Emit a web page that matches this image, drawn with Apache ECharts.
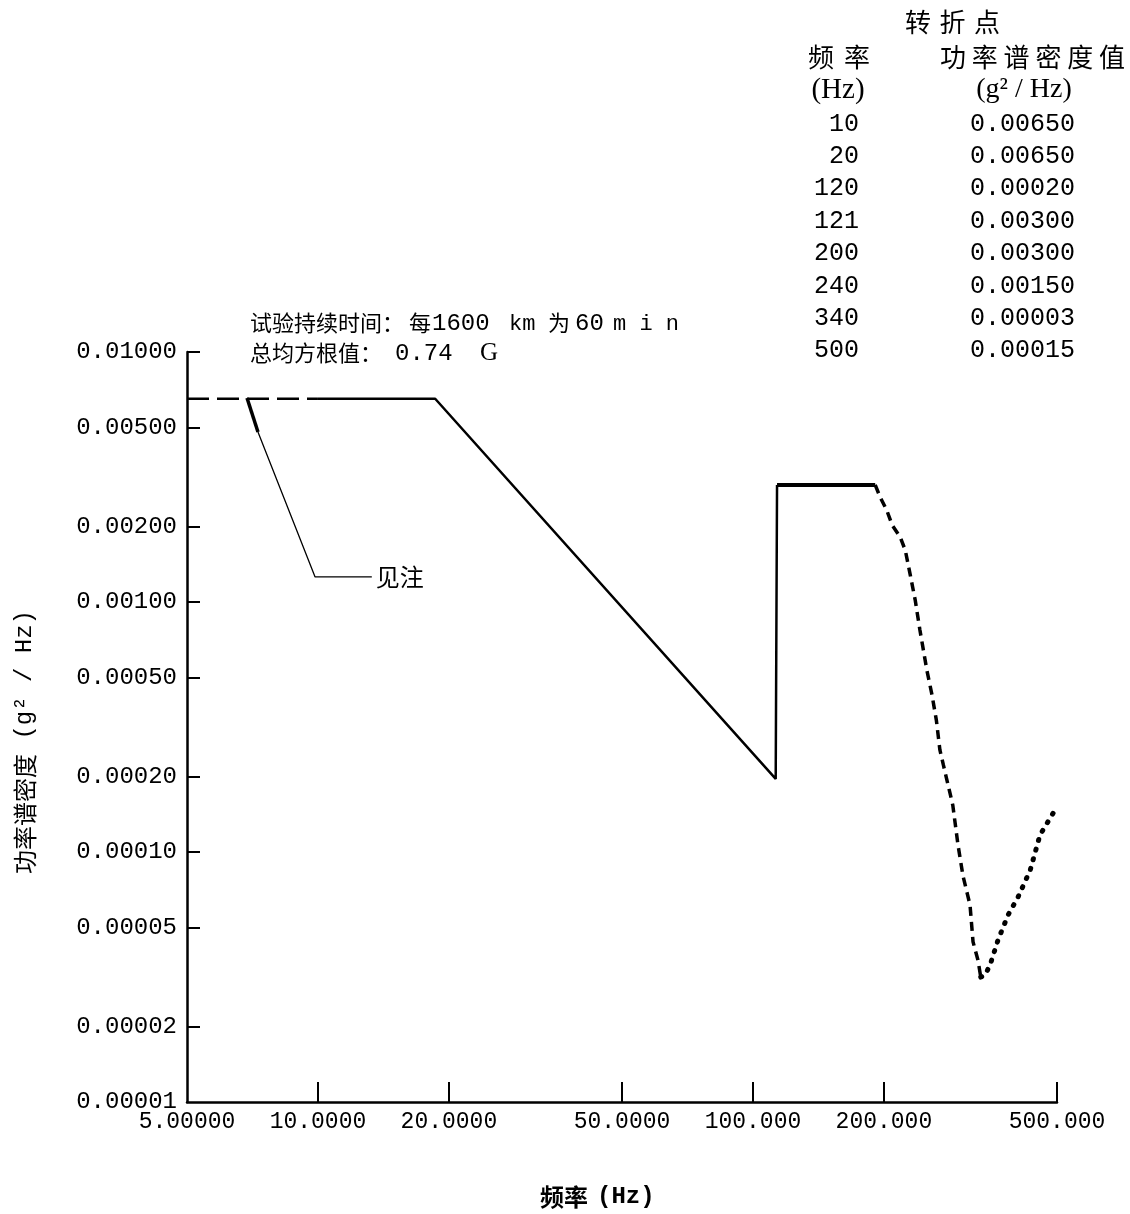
<!DOCTYPE html>
<html><head><meta charset="utf-8">
<script src="https://cdn.jsdelivr.net/npm/echarts@6/dist/echarts.min.js"></script>
<style>html,body{margin:0;padding:0;background:#fff}#c{width:1130px;height:1214px}</style>
</head><body><div id="c"></div>
<script>
// ---- axis ticks ----
const xTicks = [5, 10, 20, 50, 100, 200, 500];
const yTicks = [0.01, 0.005, 0.002, 0.001, 0.0005, 0.0002, 0.0001, 0.00005, 0.00002, 0.00001];

// ---- curve pieces (frequency Hz, PSD g^2/Hz) ----
const extFreq = [5, 10];
const extPsd = [0.0065, 0.0065];
const slopeFreq = [10, 18.6, 112.8, 113.6];
const slopePsd = [0.0065, 0.0065, 0.000196, 0.00294];
const plateauFreq = [113.6, 191];
const plateauPsd = [0.00294, 0.00294];
const rollFreq = [191, 196, 203, 209, 218, 224, 230, 236, 242, 251, 258, 264, 269, 274, 281, 288, 296, 304, 315.5, 320.6, 329, 334];
const rollPsd = [0.00294, 0.00263, 0.00233, 0.00203, 0.00182, 0.00161, 0.00128, 0.00102, 0.000773, 0.000535, 0.000425, 0.000337, 0.000256, 0.000223, 0.000185, 0.000154, 0.000107, 0.0000802, 0.0000614, 0.0000437, 0.000037, 0.0000316];
const riseFreq = [334, 341.6, 350.8, 366, 386, 407, 434, 457, 498];
const risePsd = [0.0000316, 0.0000322, 0.0000353, 0.0000445, 0.000056, 0.0000661, 0.0000847, 0.000117, 0.00015];

// ---- "见注" leader line ----
const noteFreq = [6.87, 7.28, 9.85, 13.3];
const notePsd = [0.00655, 0.00479, 0.00126, 0.00126];

// ---- break point table ----
const tableFreq = ['10', '20', '120', '121', '200', '240', '340', '500'];
const tablePsd = ['0.00650', '0.00650', '0.00020', '0.00300', '0.00300', '0.00150', '0.00003', '0.00015'];

const pairs = (xs, ys) => xs.map((x, i) => [x, ys[i]]);
const CJK = '"Noto Sans CJK SC", sans-serif';
const MONO = '"Liberation Mono", "DejaVu Sans Mono", monospace';
const SERIF = '"Liberation Serif", "Noto Sans CJK SC", serif';

const graphics = [];
function txt(x, y, text, font, size, align, weight) {
  graphics.push({ type: 'text', x: x, y: y, style: { text: text, fontFamily: font, fontSize: size, fontWeight: weight || 'normal', fill: '#000', textAlign: align || 'left', textVerticalAlign: 'middle' } });
}
// place characters one by one with a fixed step (wide letter spacing of the original print)
function spaced(x0, y, text, font, size, step) {
  Array.from(text).forEach((ch, i) => txt(x0 + i * step, y, ch, font, size, 'left'));
}
spaced(905, 22, '转折点', CJK, 26, 34.5);
spaced(808, 57, '频率', CJK, 26, 36);
spaced(940, 57, '功率谱密度值', CJK, 26, 31.8);
txt(838, 90, '(Hz)', SERIF, 29, 'center');
txt(1024, 90, '(g² / Hz)', SERIF, 28, 'center');
tableFreq.forEach((f, i) => txt(859, 124 + i * 32.4, f, MONO, 25, 'right'));
tablePsd.forEach((p, i) => txt(970, 124 + i * 32.4, p, MONO, 25, 'left'));

// note texts above the plot
txt(250, 323, '试验持续时间：', CJK, 22, 'left');
txt(409, 323, '每', CJK, 22, 'left');
txt(432, 324, '1600', MONO, 24, 'left');
txt(509, 324, 'km', MONO, 22, 'left');
txt(548, 323, '为', CJK, 22, 'left');
txt(575, 324, '60', MONO, 24, 'left');
txt(613, 324, 'm i n', MONO, 22, 'left');
txt(250, 353, '总均方根值：', CJK, 22, 'left');
txt(395, 354, '0.74', MONO, 24, 'left');
txt(480, 353, 'G', SERIF, 25, 'left');

// x axis name
txt(540, 1197, '频率', CJK, 24, 'left', 'bold');
txt(597, 1197, '(Hz)', MONO, 24, 'left', 'bold');

const chart = echarts.init(document.getElementById('c'));
chart.setOption({
  backgroundColor: '#fff',
  animation: false,
  grid: { left: 187, right: 73, top: 352, bottom: 112, containLabel: false, outerBoundsMode: 'none' },
  xAxis: {
    type: 'log', logBase: 10, min: 5, max: 500,
    axisLine: { show: true, lineStyle: { color: '#000', width: 2.5 } },
    axisTick: { show: true, inside: true, length: 20, customValues: xTicks.slice(1), lineStyle: { color: '#000', width: 2 } },
    axisLabel: { show: true, customValues: xTicks, formatter: v => Number(v).toPrecision(6), fontFamily: MONO, fontSize: 23, color: '#000', margin: 8 },
    splitLine: { show: false }, minorTick: { show: false }
  },
  yAxis: {
    type: 'log', logBase: 10, min: 0.00001, max: 0.01,
    name: '{a|功率谱密度}{b| (g² / Hz)}', nameLocation: 'middle', nameGap: 150,
    nameTextStyle: { color: '#000', padding: [0, 30, 0, 0], rich: {
      a: { fontFamily: CJK, fontSize: 24, color: '#000' },
      b: { fontFamily: MONO, fontSize: 24, color: '#000' } } },
    axisLine: { show: true, lineStyle: { color: '#000', width: 2.5 } },
    axisTick: { show: true, inside: true, length: 13, customValues: yTicks.slice(0, -1), lineStyle: { color: '#000', width: 2 } },
    axisLabel: { show: true, customValues: yTicks, formatter: v => Number(v).toFixed(5), fontFamily: MONO, fontSize: 24, color: '#000', margin: 10 },
    splitLine: { show: false }, minorTick: { show: false }
  },
  series: [
    { type: 'line', data: pairs(extFreq, extPsd), symbol: 'none', lineStyle: { color: '#000', width: 2.5, type: [22, 8] } },
    { type: 'line', data: pairs(slopeFreq, slopePsd), symbol: 'none', lineStyle: { color: '#000', width: 2.5 } },
    { type: 'line', data: pairs(plateauFreq, plateauPsd), symbol: 'none', lineStyle: { color: '#000', width: 4 } },
    { type: 'line', data: pairs(rollFreq, rollPsd), symbol: 'none', lineStyle: { color: '#000', width: 3.5, type: [9, 6] } },
    { type: 'line', data: pairs(riseFreq, risePsd), symbol: 'none', lineStyle: { color: '#000', width: 5, type: [1, 9], cap: 'round' } },
    { type: 'line', data: pairs(noteFreq.slice(0, 2), notePsd.slice(0, 2)), symbol: 'none', lineStyle: { color: '#000', width: 3.5 } },
    { type: 'line', data: pairs(noteFreq.slice(1), notePsd.slice(1)), symbol: 'none', lineStyle: { color: '#000', width: 1.3 },
      endLabel: { show: true, formatter: '见注', fontFamily: CJK, fontSize: 24, color: '#000', distance: 4 } }
  ],
  graphic: graphics
});
</script></body></html>
